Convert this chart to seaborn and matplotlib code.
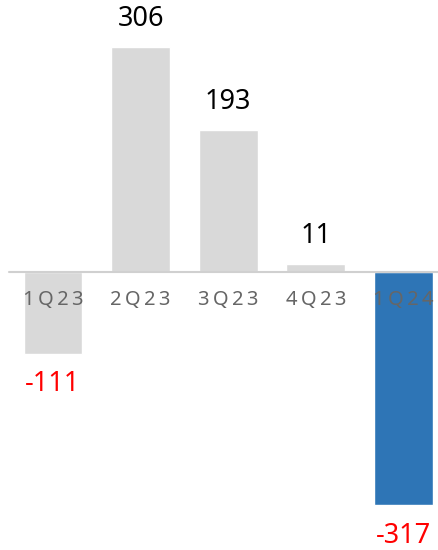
import seaborn as sns
import matplotlib.pyplot as plt
import pandas as pd

# Datos del grafico
quarters = ["1Q23", "2Q23", "3Q23", "4Q23", "1Q24"]
values = [-111, 306, 193, 11, -317]
bar_colors = ["#D9D9D9", "#D9D9D9", "#D9D9D9", "#D9D9D9", "#2E75B6"]

df = pd.DataFrame({"Trimestre": quarters, "Valor": values})

sns.set_style("white")
plt.rcParams["font.family"] = ["Noto Sans", "DejaVu Sans"]

fig = plt.figure(figsize=(4.38, 5.5), dpi=100)
ax = fig.add_axes([0, 0, 1, 1])

sns.barplot(data=df, x="Trimestre", y="Valor", hue="Trimestre",
            palette=bar_colors, width=0.67, legend=False, ax=ax, saturation=1)

ax.set_xlim(-0.605, 4.395)
ax.set_ylim(-378, 370)
ax.axhline(0, xmin=(-0.5 + 0.605) / 5.0, xmax=1, color="#D0D0D0", lw=1.5, zorder=1)

# Etiquetas de valor
for i, v in enumerate(values):
    if v >= 0:
        ax.annotate(str(v), (i, v), xytext=(0, 10), textcoords="offset points",
                    ha="center", va="bottom", fontsize=19.5, color="black")
    else:
        ax.annotate(str(v), (i, v), xytext=(0, -12), textcoords="offset points",
                    ha="center", va="top", fontsize=19.5, color="#FF0000")

# Etiquetas de trimestre sobre el eje
for i, q in enumerate(quarters):
    ax.annotate("\u2009".join(q), (i, 0), xytext=(0, -20), textcoords="offset points",
                ha="center", va="center", fontsize=14.5, color="#666666", zorder=5)

ax.axis("off")
fig.savefig("out.png", dpi=100)
